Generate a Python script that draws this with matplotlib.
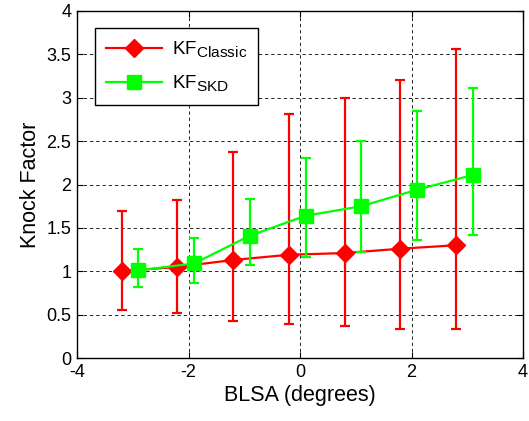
import matplotlib
matplotlib.use("Agg")
import matplotlib.pyplot as plt
from matplotlib.lines import Line2D
import matplotlib._mathtext as mt

plt.rcParams["font.family"] = ["Liberation Sans", "DejaVu Sans"]
plt.rcParams["mathtext.fontset"] = "custom"
plt.rcParams["mathtext.rm"] = "Liberation Sans"
plt.rcParams["mathtext.it"] = "Liberation Sans"
mt.SHRINK_FACTOR = 0.82  # bigger subscripts, like the original

# KF classic (red diamonds)
x_classic = [-3.2, -2.2, -1.2, -0.2, 0.8, 1.8, 2.8]
kf_classic = [1.00, 1.05, 1.13, 1.19, 1.21, 1.26, 1.30]
classic_top = [1.70, 1.82, 2.37, 2.81, 3.00, 3.21, 3.56]
classic_bot = [0.55, 0.52, 0.43, 0.39, 0.37, 0.34, 0.34]

# KF SKD (green squares)
x_skd = [-2.9, -1.9, -0.9, 0.1, 1.1, 2.1, 3.1]
kf_skd = [1.01, 1.09, 1.41, 1.64, 1.75, 1.94, 2.11]
skd_top = [1.26, 1.38, 1.83, 2.30, 2.50, 2.85, 3.11]
skd_bot = [0.82, 0.87, 1.07, 1.16, 1.22, 1.36, 1.42]

xticks = [-4, -2, 0, 2, 4]
yticks = [0, 0.5, 1, 1.5, 2, 2.5, 3, 3.5, 4]
yticklabels = ["0", "0.5", "1", "1.5", "2", "2.5", "3", "3.5", "4"]

RED, GREEN = "#ff0000", "#00ff00"

fig = plt.figure(figsize=(5.29, 4.21), dpi=100)
ax = fig.add_axes([0.1456, 0.1496, 0.8431, 0.8243])

err_c = [[m - b for m, b in zip(kf_classic, classic_bot)],
         [t - m for m, t in zip(kf_classic, classic_top)]]
err_s = [[m - b for m, b in zip(kf_skd, skd_bot)],
         [t - m for m, t in zip(kf_skd, skd_top)]]

ax.errorbar(x_classic, kf_classic, yerr=err_c, color=RED, marker="D",
            markersize=9, lw=1.6, elinewidth=1.6, capsize=3.5, capthick=1.6,
            zorder=3)
ax.errorbar(x_skd, kf_skd, yerr=err_s, color=GREEN, marker="s",
            markersize=9.5, lw=1.6, elinewidth=1.6, capsize=3.5, capthick=1.6,
            zorder=4)

ax.set_xlim(-4, 4)
ax.set_ylim(0, 4)
ax.set_xticks(xticks)
ax.set_xticklabels([str(t) for t in xticks])
ax.set_yticks(yticks)
ax.set_yticklabels(yticklabels)
ax.tick_params(direction="in", top=True, right=True, length=4, labelsize=13, pad=4)
ax.grid(True, color="k", ls=(0, (4, 3.5)), lw=0.6)
ax.set_axisbelow(True)
for s in ax.spines.values():
    s.set_linewidth(1.0)

ax.set_xlabel("BLSA (degrees)", fontsize=15.5, labelpad=3)
ax.set_ylabel("Knock Factor", fontsize=15.5, labelpad=4)

handles = [Line2D([], [], color=RED, marker="D", markersize=9, lw=1.6),
           Line2D([], [], color=GREEN, marker="s", markersize=9.5, lw=1.6)]
labels = [r"KF$_{\mathrm{Classic}}$", r"KF$_{\mathrm{SKD}}$"]
leg = ax.legend(handles, labels, loc="upper left", bbox_to_anchor=(0.04, 0.951),
                fontsize=13.5, fancybox=False, edgecolor="k", framealpha=1,
                borderaxespad=0, handlelength=3.0, handletextpad=0.5,
                borderpad=0.6, labelspacing=0.75)
leg.get_frame().set_linewidth(1.0)

fig.savefig("out.png", dpi=100)
